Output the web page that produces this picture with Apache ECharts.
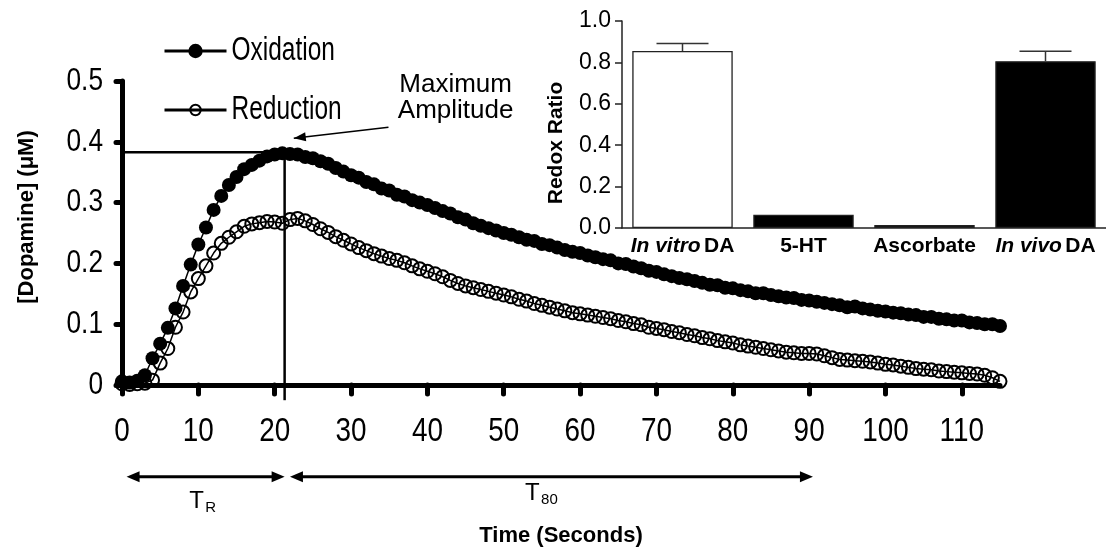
<!DOCTYPE html>
<html><head><meta charset="utf-8">
<script src="https://cdn.jsdelivr.net/npm/echarts@6/dist/echarts.min.js"></script>
<style>html,body{margin:0;padding:0;background:#fff}#c{width:1106px;height:558px}</style>
</head><body><div id="c"></div>
<script>
// ---------- DATA ----------
const timeSec = [0,1,2,3,4,5,6,7,8,9,10,11,12,13,14,15,16,17,18,19,20,21,22,23,24,25,26,27,28,29,30,31,32,33,34,35,36,37,38,39,40,41,42,43,44,45,46,47,48,49,50,51,52,53,54,55,56,57,58,59,60,61,62,63,64,65,66,67,68,69,70,71,72,73,74,75,76,77,78,79,80,81,82,83,84,85,86,87,88,89,90,91,92,93,94,95,96,97,98,99,100,101,102,103,104,105,106,107,108,109,110,111,112,113,114,115];
const oxidation = [0.006,0.004,0.007,0.016,0.044,0.068,0.094,0.126,0.163,0.198,0.231,0.259,0.288,0.311,0.329,0.342,0.355,0.362,0.369,0.376,0.379,0.381,0.380,0.379,0.375,0.373,0.368,0.364,0.357,0.351,0.345,0.341,0.334,0.330,0.323,0.320,0.313,0.310,0.304,0.300,0.296,0.291,0.286,0.282,0.276,0.272,0.266,0.262,0.258,0.254,0.250,0.247,0.243,0.239,0.237,0.232,0.230,0.226,0.222,0.219,0.217,0.213,0.210,0.207,0.205,0.200,0.199,0.195,0.192,0.188,0.186,0.182,0.179,0.176,0.174,0.171,0.168,0.165,0.164,0.160,0.159,0.156,0.154,0.151,0.151,0.148,0.146,0.144,0.143,0.140,0.139,0.137,0.135,0.133,0.131,0.128,0.129,0.126,0.124,0.122,0.121,0.119,0.118,0.116,0.115,0.112,0.112,0.109,0.108,0.106,0.106,0.103,0.102,0.100,0.100,0.097];
const reduction = [0.002,0.001,0.002,0.003,0.008,0.036,0.060,0.095,0.120,0.153,0.175,0.196,0.217,0.233,0.243,0.252,0.261,0.265,0.267,0.269,0.268,0.266,0.272,0.274,0.270,0.264,0.257,0.251,0.244,0.238,0.232,0.226,0.221,0.216,0.212,0.208,0.205,0.201,0.196,0.191,0.187,0.183,0.178,0.172,0.167,0.163,0.160,0.157,0.154,0.151,0.148,0.145,0.141,0.138,0.134,0.131,0.128,0.125,0.122,0.119,0.117,0.115,0.113,0.111,0.109,0.106,0.104,0.101,0.099,0.095,0.093,0.091,0.088,0.086,0.083,0.081,0.078,0.076,0.073,0.071,0.069,0.066,0.064,0.062,0.060,0.058,0.056,0.054,0.053,0.052,0.052,0.051,0.048,0.045,0.042,0.041,0.040,0.039,0.038,0.036,0.034,0.033,0.031,0.029,0.027,0.026,0.025,0.023,0.022,0.021,0.020,0.019,0.018,0.016,0.012,0.006];
const xTicks = [0,10,20,30,40,50,60,70,80,90,100,110];
const yTicks = [0,0.1,0.2,0.3,0.4,0.5];
const insetCategories = ['In vitro DA','5-HT','Ascorbate','In vivo DA'];
const redoxRatio = [0.855,0.064,0.014,0.806];
const redoxErr = [0.036,0,0,0.048];
// annotation values (data units)
const maxAmpTime = 21.3, maxAmpValue = 0.383;
const tRange = [0.6, 21.3];
const t80Range = [22.0, 90.5];

// ---------- CHART ----------
const COND = "'Liberation Sans', CondX, Arial, sans-serif";   // text that gets horizontally condensed
const COND2 = "'Liberation Sans', CondY, Arial, sans-serif";
const ARIAL = "'Liberation Sans', Arial, Helvetica, sans-serif";
const barFill = ['#ffffff','#000000','#000000','#000000'];
const chart = echarts.init(document.getElementById('c'));

const option = {
  animation: false,
  backgroundColor: '#fff',
  grid: [
    {left: 122, right: 106, top: 81, bottom: 173},
    {left: 622, right: 0, top: 21, bottom: 330}
  ],
  legend: [
    {data: ['Oxidation'], left: 163, top: 34, padding: 0, itemWidth: 62, itemHeight: 18, selectedMode: false,
     textStyle: {fontFamily: COND2, fontSize: 34, color: '#000'},
     lineStyle: {width: 3, color: '#000'}, itemStyle: {borderWidth: 0}},
    {data: ['Reduction'], left: 163, top: 93, padding: 0, itemWidth: 62, itemHeight: 13, selectedMode: false,
     textStyle: {fontFamily: COND2, fontSize: 34, color: '#000'},
     lineStyle: {width: 3, color: '#000'}, itemStyle: {borderWidth: 2, borderColor: '#000'}}
  ],
  xAxis: [
    {type: 'value', gridIndex: 0, min: 0, max: 115,
     axisLine: {lineStyle: {color: '#000', width: 5, cap: 'round'}},
     axisTick: {customValues: xTicks, length: 9, lineStyle: {color: '#000', width: 5, cap: 'round'}},
     axisLabel: {customValues: xTicks, margin: 30, fontFamily: COND, fontSize: 34, color: '#000'},
     splitLine: {show: false},
     name: 'Time (Seconds)', nameLocation: 'middle', nameGap: 140,
     nameTextStyle: {fontFamily: ARIAL, fontWeight: 'bold', fontSize: 22, color: '#000'}},
    {type: 'category', gridIndex: 1, data: insetCategories,
     axisLine: {lineStyle: {color: '#222', width: 1.5}},
     axisTick: {show: false},
     axisLabel: {interval: 0, margin: 8,
       formatter: v => ({'In vitro DA': '{i|In vitro} {b|DA}', 'In vivo DA': '{i|In vivo} {b|DA}'}[v] || '{b|' + v + '}'),
       rich: {
         i: {fontStyle: 'italic', fontWeight: 'bold', fontSize: 21, fontFamily: ARIAL, color: '#000'},
         b: {fontWeight: 'bold', fontSize: 21, fontFamily: ARIAL, color: '#000'}
       }}}
  ],
  yAxis: [
    {type: 'value', gridIndex: 0, min: 0, max: 0.5, interval: 0.1,
     axisLine: {show: true, lineStyle: {color: '#000', width: 5, cap: 'round'}},
     axisTick: {show: true, customValues: yTicks, length: 6, lineStyle: {color: '#000', width: 5, cap: 'round'}},
     axisLabel: {customValues: yTicks, margin: 19, fontFamily: COND, fontSize: 32, color: '#000'},
     splitLine: {show: false},
     name: '[Dopamine] (\u03BCM)', nameLocation: 'middle', nameGap: 84,
     nameTextStyle: {fontFamily: ARIAL, fontWeight: 'bold', fontSize: 22, color: '#000', padding: [0, 0, 0, 32]}},
    {type: 'value', gridIndex: 1, min: 0, max: 1, interval: 0.2,
     axisLine: {show: true, lineStyle: {color: '#222', width: 1.5}},
     axisTick: {show: true, length: 7, lineStyle: {color: '#222', width: 1.5}},
     axisLabel: {formatter: v => v.toFixed(1), margin: 11, fontFamily: ARIAL, fontSize: 23, color: '#000'},
     splitLine: {show: false},
     name: 'Redox Ratio', nameLocation: 'middle', nameGap: 55,
     nameTextStyle: {fontFamily: ARIAL, fontWeight: 'bold', fontSize: 21, color: '#000', padding: [0, 37, 0, 0]}}
  ],
  series: [
    {name: 'Oxidation', type: 'line', xAxisIndex: 0, yAxisIndex: 0,
     data: timeSec.map((t, i) => [t, oxidation[i]]),
     symbol: 'circle', symbolSize: 14, clip: false, silent: true, z: 3,
     itemStyle: {color: '#000'}, lineStyle: {color: '#000', width: 1.5}},
    {name: 'Reduction', type: 'line', xAxisIndex: 0, yAxisIndex: 0,
     data: timeSec.map((t, i) => [t, reduction[i]]),
     symbol: 'circle', symbolSize: 13, clip: false, silent: true, z: 4,
     itemStyle: {color: 'rgba(255,255,255,0)', borderColor: '#000', borderWidth: 2},
     lineStyle: {color: '#000', width: 1.5}},
    {type: 'bar', xAxisIndex: 1, yAxisIndex: 1, barWidth: '83%', silent: true,
     data: redoxRatio.map((v, i) => ({value: v, itemStyle: {color: barFill[i]}})),
     itemStyle: {borderColor: '#222', borderWidth: 1.3}},
    {type: 'custom', xAxisIndex: 1, yAxisIndex: 1, silent: true, z: 5,
     data: insetCategories.map((c, i) => [i, redoxRatio[i], redoxErr[i]]),
     renderItem: (params, api) => {
       const i = api.value(0), v = api.value(1), e = api.value(2);
       if (!e) return null;
       const top = api.coord([i, v + e]);
       const base = api.coord([i, v]);
       const st = {stroke: '#333', lineWidth: 1.5};
       return {type: 'group', children: [
         {type: 'line', shape: {x1: top[0], y1: top[1], x2: base[0], y2: base[1]}, style: st},
         {type: 'line', shape: {x1: top[0] - 26, y1: top[1], x2: top[0] + 26, y2: top[1]}, style: st}
       ]};
     }}
  ]
};
chart.setOption(option);

// ---------- ANNOTATIONS (positioned through the main grid's scales) ----------
const P = (x, y) => chart.convertToPixel({gridIndex: 0}, [x, y]);
function arrowHead(tip, from, len, half) {
  const dx = tip[0] - from[0], dy = tip[1] - from[1];
  const d = Math.sqrt(dx * dx + dy * dy), ux = dx / d, uy = dy / d;
  const bx = tip[0] - ux * len, by = tip[1] - uy * len;
  return {type: 'polygon', shape: {points: [tip, [bx - uy * half, by + ux * half], [bx + uy * half, by - ux * half]]}, style: {fill: '#000'}};
}
function seg(a, b, w) {
  return {type: 'line', shape: {x1: a[0], y1: a[1], x2: b[0], y2: b[1]}, style: {stroke: '#000', lineWidth: w}};
}
const g = [];
const hA = P(0, maxAmpValue), hB = P(maxAmpTime, maxAmpValue), vB = P(maxAmpTime, -0.025);
g.push(seg(hA, hB, 2.5), seg(hB, vB, 2.5));
const aS = P(34.9, 0.424), aE = P(22.5, 0.406);
g.push(seg(aS, aE, 1.5), arrowHead(aE, aS, 12, 4.5));
const arrowV = -0.151;
function dbl(r) {
  const a = P(r[0], arrowV), b = P(r[1], arrowV);
  const a2 = [a[0] + 8, a[1]], b2 = [b[0] - 8, b[1]];
  g.push(seg(a2, b2, 3), arrowHead(a, b, 13, 5.5), arrowHead(b, a, 13, 5.5));
}
dbl(tRange); dbl(t80Range);
const tx = (txt, p, size) => ({type: 'text', x: p[0], y: p[1],
  style: {text: txt, fill: '#000', font: size + "px 'Liberation Sans', Arial, sans-serif", align: 'left', verticalAlign: 'bottom'}});
const trP = P(8.8, -0.20), t8P = P(52.8, -0.188);
g.push(tx('T', [trP[0], trP[1] + 7], 24), tx('R', [trP[0] + 16, trP[1] + 9], 15));
g.push(tx('T', [t8P[0], t8P[1] + 6], 24), tx('80', [t8P[0] + 16, t8P[1] + 8], 15));
const mP = P(43.7, 0.472);
g.push({type: 'text', x: mP[0], y: mP[1], style: {text: 'Maximum\nAmplitude', fill: '#000',
  font: "26px 'Liberation Sans', Arial, sans-serif", align: 'center', verticalAlign: 'middle', lineHeight: 26}});
chart.setOption({graphic: g});

// ---------- condense the tick / legend text horizontally (like the narrow font of the original) ----------
(function condense() {
  const zr = chart.getZr();
  const visit = el => {
    if (el.type === 'text' && el.style) {
      const fam = (el.style.fontFamily || '') + (el.style.font || '');
      let s = 0;
      if (fam.indexOf('CondX') >= 0) s = 0.82;
      else if (fam.indexOf('CondY') >= 0) s = 0.72;
      if (s) {
        el.originX = el.style.x || 0;
        el.originY = el.style.y || 0;
        el.scaleX = s;
        el.markRedraw();
      }
    }
    if (el.isGroup) el.eachChild(visit);
  };
  zr.storage.getRoots().forEach(visit);
  zr.refreshImmediately();
})();
</script>
</body></html>
